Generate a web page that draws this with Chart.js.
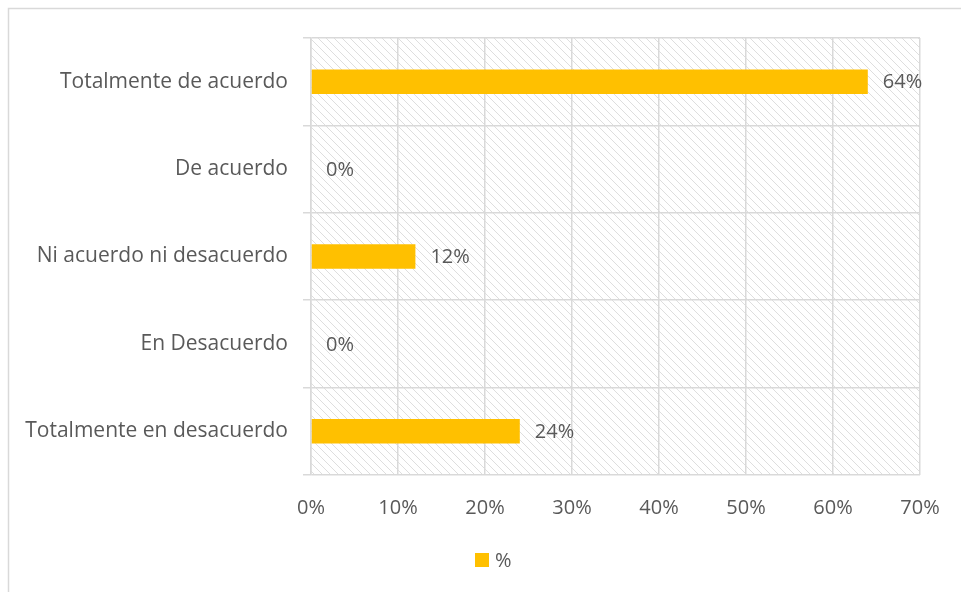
<!DOCTYPE html>
<html>
<head>
  <title>Nivel de acuerdo</title>
  <script src="https://cdn.jsdelivr.net/npm/chart.js"></script>
  <style>
    html, body { margin: 0; padding: 0; background: #fff; }
  </style>
</head>
<body>
  <canvas id="grafico" width="961" height="592"></canvas>

  <script>
    var categorias = ['Totalmente de acuerdo', 'De acuerdo', 'Ni acuerdo ni desacuerdo', 'En Desacuerdo', 'Totalmente en desacuerdo'];
    var porcentajes = [64, 0, 12, 0, 24];
    var serie = '%';
    var maximo = 70;
    var paso = 10;

    var gris = '#d9d9d9';
    var texto = '#595959';
    var amarillo = '#ffc000';
    var fuente = '"Open Sans", sans-serif';

    // trama diagonal del fondo del area de trazado
    function crearTrama(ctx) {
      var c = document.createElement('canvas');
      c.width = 8; c.height = 8;
      var p = c.getContext('2d');
      p.strokeStyle = '#dedede';
      p.lineWidth = 1;
      p.beginPath();
      p.moveTo(-1, -1); p.lineTo(9, 9);
      p.moveTo(-1, 7); p.lineTo(1, 9);
      p.moveTo(7, -1); p.lineTo(9, 1);
      p.stroke();
      return ctx.createPattern(c, 'repeat');
    }

    var fondo = {
      id: 'fondo',
      beforeDraw: function(chart) {
        var ctx = chart.ctx, a = chart.chartArea;
        ctx.save();
        ctx.strokeStyle = gris;
        ctx.lineWidth = 1.5;
        ctx.strokeRect(8.5, 8.5, 2000, 2000);
        ctx.fillStyle = crearTrama(ctx);
        ctx.fillRect(a.left, a.top, a.right - a.left, a.bottom - a.top);
        ctx.restore();
      }
    };

    // valores al final de cada barra
    var etiquetas = {
      id: 'etiquetas',
      afterDatasetsDraw: function(chart) {
        var ctx = chart.ctx;
        var meta = chart.getDatasetMeta(0);
        ctx.save();
        ctx.font = '20px ' + fuente;
        ctx.fillStyle = texto;
        ctx.textAlign = 'left';
        ctx.textBaseline = 'middle';
        meta.data.forEach(function(bar, i) {
          ctx.fillText(porcentajes[i] + '%', bar.x + 15, bar.y + 1);
        });
        ctx.restore();
      }
    };

    // leyenda abajo, centrada bajo el eje
    var leyenda = {
      id: 'leyenda',
      afterDraw: function(chart) {
        var ctx = chart.ctx;
        var ds = chart.data.datasets[0];
        var x = 475, y = 560;
        ctx.save();
        ctx.fillStyle = ds.backgroundColor;
        ctx.fillRect(x, y - 7, 14, 14);
        ctx.font = '20px ' + fuente;
        ctx.fillStyle = texto;
        ctx.textBaseline = 'middle';
        ctx.fillText(ds.label, x + 20, y + 1);
        ctx.restore();
      }
    };

    var ctx = document.getElementById('grafico').getContext('2d');
    new Chart(ctx, {
      type: 'bar',
      data: {
        labels: categorias,
        datasets: [{
          label: serie,
          data: porcentajes,
          backgroundColor: amarillo,
          borderWidth: 0,
          barPercentage: 0.28,
          categoryPercentage: 1
        }]
      },
      options: {
        indexAxis: 'y',
        responsive: false,
        animation: false,
        layout: { padding: { top: 38, right: 41, left: 0, bottom: 52 } },
        scales: {
          x: {
            min: 0,
            max: maximo,
            ticks: {
              stepSize: paso,
              color: texto,
              padding: 21,
              font: { family: fuente, size: 20 },
              callback: function(v) { return v + '%'; }
            },
            grid: { color: gris, lineWidth: 1.5, drawTicks: false },
            border: { display: false },
            afterFit: function(scale) { scale.height = 65; }
          },
          y: {
            ticks: {
              color: texto,
              padding: 15,
              font: { family: fuente, size: 21 }
            },
            grid: { color: gris, lineWidth: 1.5, tickLength: 8, offset: true },
            border: { display: true, color: gris, width: 1.5 },
            afterFit: function(scale) { scale.width = 311; }
          }
        },
        plugins: {
          legend: { display: false },
          tooltip: { enabled: false }
        }
      },
      plugins: [fondo, etiquetas, leyenda]
    });
  </script>
</body>
</html>
